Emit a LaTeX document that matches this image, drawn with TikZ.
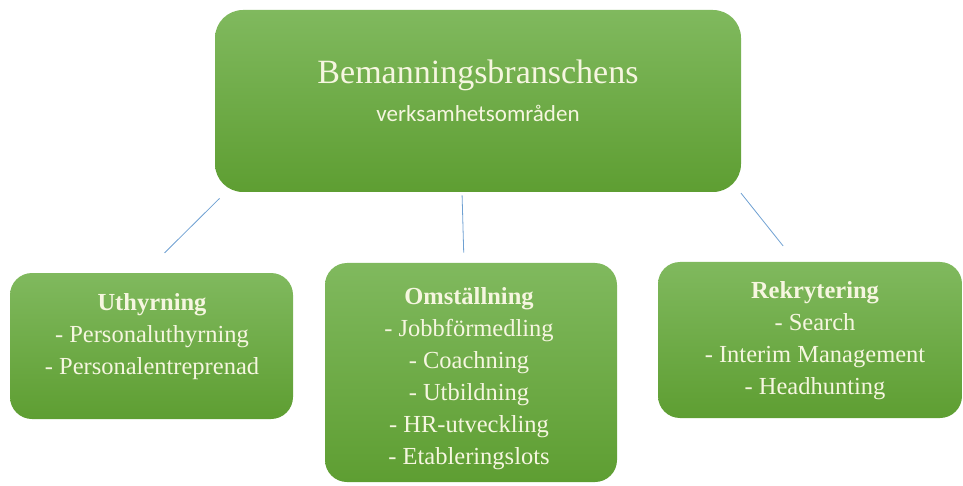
\documentclass[tikz,border=0pt]{standalone}
\usepackage{fontspec}
\setmainfont{Liberation Serif}
\newfontfamily\calib{Carlito}
\definecolor{boxtop}{RGB}{128,185,94}
\definecolor{boxbot}{RGB}{94,158,50}
\definecolor{txtcol}{RGB}{246,246,224}
\definecolor{linecol}{RGB}{110,160,210}

\tikzset{every picture/.style={line width=0.75pt}}
\tikzset{
  greenbox/.style={draw=none, rounded corners=22pt, top color=boxtop, bottom color=boxbot, inner sep=0pt},
  boxtext/.style={text=txtcol, align=center, inner sep=0pt, font=\fontsize{24.5}{32}\selectfont},
  conn/.style={draw=linecol, line width=0.8pt}
}

\begin{document}
\begin{tikzpicture}[x=1pt,y=1pt,yscale=-1,xscale=1]
\useasboundingbox (0,0) rectangle (963,486);

%Boxes
\node [greenbox, rounded corners=28pt, minimum width=526pt, minimum height=182pt] (topbox) at (478,101) {};
\node [greenbox, minimum width=283pt, minimum height=146pt] (uthyrbox) at (151.5,346) {};
\node [greenbox, minimum width=292pt, minimum height=219pt] (omstbox) at (471,372.5) {};
\node [greenbox, minimum width=304pt, minimum height=156pt] (rekrybox) at (810,340) {};

%Straight Lines
\draw [conn, shorten <=8.5pt, shorten >=28pt] ([xshift=11pt]topbox.south west) -- ([xshift=135pt]uthyrbox.north west);
%Straight Lines
\draw [conn, shorten <=3pt, shorten >=10pt] ([xshift=-16pt]topbox.south) -- ([xshift=-7pt]omstbox.north);
%Straight Lines
\draw [conn, shorten <=1pt, shorten >=20pt] ([xshift=-1pt]topbox.south east) -- ([xshift=138pt]rekrybox.north west);

% Text Node
\node [boxtext, font=\fontsize{34}{40}\selectfont] (toptitle) at (478,75) {Bemanningsbranschens};
% Text Node
\node [boxtext, font=\calib\fontsize{23}{28}\selectfont] (topsub) at (478,113) {verksamhetsområden};
% Text Node
\node [boxtext] (uthyr) at (152,337) {\textbf{Uthyrning}\\- Personaluthyrning\\- Personalentreprenad};
% Text Node
\node [boxtext] (omst) at (469,379) {\textbf{Omställning}\\- Jobbförmedling\\- Coachning\\- Utbildning\\- HR-utveckling\\- Etableringslots};
% Text Node
\node [boxtext] (rekry) at (815,341) {\textbf{Rekrytering}\\- Search\\- Interim Management\\- Headhunting};

\end{tikzpicture}
\end{document}
